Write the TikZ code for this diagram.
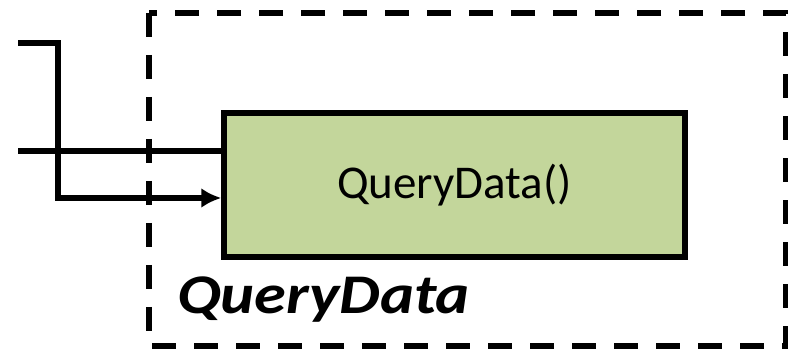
\documentclass[tikz,border=0pt]{standalone}
\usepackage{fontspec}
\setmainfont{Carlito}
\usetikzlibrary{shapes,arrows.meta}
\definecolor{boxgreen}{HTML}{C3D69B}

\begin{document}
\begin{tikzpicture}[auto, x=1pt, y=1pt, >={Latex[length=20pt,width=20pt]},
    line width=5.5pt]
\tikzstyle{block} = [draw, fill=boxgreen, rectangle, inner sep=0pt,
    minimum height=144pt, minimum width=461pt,
    font=\fontsize{47}{56}\selectfont]
\tikzstyle{frame} = [draw, dash pattern=on 24pt off 18pt]
\tikzstyle{input} = [coordinate]
    \useasboundingbox (0,0) rectangle (788,355);
    % We start by placing the frame and the block
    \draw [frame] (149,342) rectangle (786,9);
    \node [block] (query) at (454.5,170) {QueryData()};
    \node [anchor=base west, inner sep=0pt, xscale=1.15, transform shape,
        font=\fontsize{56}{66}\selectfont\bfseries\itshape] (title) at (174,41) {QueryData};
    % The inputs come in from the left
    \node [input] (in1) at (18,312) {};
    \node [input] (in2) at (18,204) {};
    \draw (in2) -- (in2 -| query.west);
    \draw [->] (in1) -| (58,157) -- ([yshift=-13pt]query.west);
\end{tikzpicture}
\end{document}
